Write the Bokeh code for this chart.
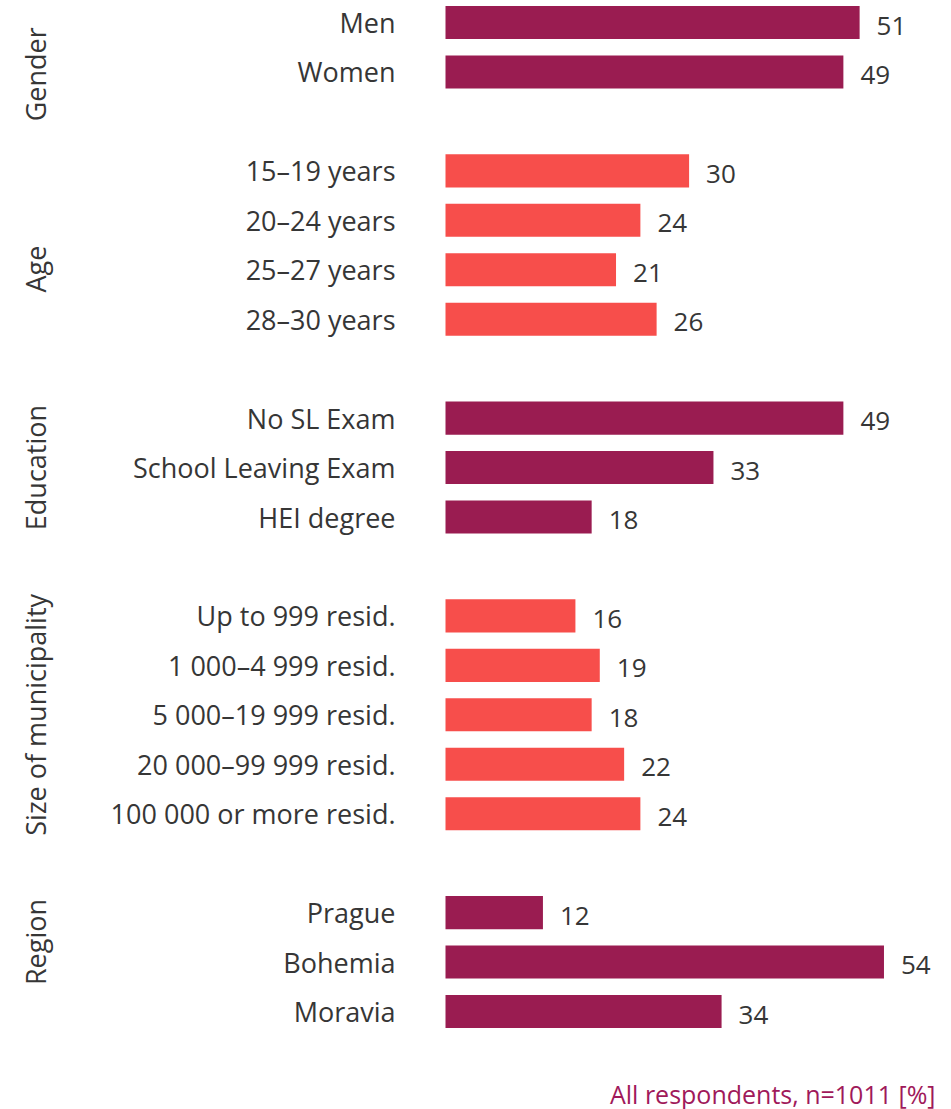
import math
from bokeh.plotting import figure
from bokeh.models import Range1d, ColumnDataSource, Title
from bokeh.core.properties import value
from bokeh.embed import file_html
from bokeh.resources import INLINE

groups = ["Gender", "Age", "Education", "Size of municipality", "Region"]
gender_cats = ["Men", "Women"]
gender_vals = [51, 49]
age_cats = ["15–19 years", "20–24 years", "25–27 years", "28–30 years"]
age_vals = [30, 24, 21, 26]
edu_cats = ["No SL Exam", "School Leaving Exam", "HEI degree"]
edu_vals = [49, 33, 18]
size_cats = ["Up to 999 resid.", "1 000–4 999 resid.", "5 000–19 999 resid.",
             "20 000–99 999 resid.", "100 000 or more resid."]
size_vals = [16, 19, 18, 22, 24]
region_cats = ["Prague", "Bohemia", "Moravia"]
region_vals = [12, 54, 34]
footer = "All respondents, n=1011 [%]"

MAGENTA = "#9A1C51"
CORAL = "#F74E4B"
TEXT = "#363636"
FOOT = "#A0195A"
FONT = "Open Sans"

group_data = [
    (gender_cats, gender_vals, MAGENTA),
    (age_cats, age_vals, CORAL),
    (edu_cats, edu_vals, MAGENTA),
    (size_cats, size_vals, CORAL),
    (region_cats, region_vals, MAGENTA),
]
# per-group pixel nudge for rotated group labels (layout only)
group_label_nudge = [27, 24, 0, 0, -20]

rows, vals, cats, colors = [], [], [], []
g_rows = []
r = 0
for gi, (c, v, col) in enumerate(group_data):
    start = r
    for ci, vi in zip(c, v):
        rows.append(r); vals.append(vi); cats.append(ci); colors.append(col)
        r += 1
    g_rows.append((start + r - 1) / 2)
    r += 1  # blank gap row

PX = 8.12      # pixels per percent
ROW = 49.45    # pixels per row
FW, FH = 935, 1074
x0 = -445 / PX
y_top = -22 / ROW

p = figure(width=FW, frame_width=FW, frame_height=FH, output_backend="svg",
           toolbar_location=None, x_axis_location=None, y_axis_location=None,
           x_range=Range1d(x0, x0 + FW / PX),
           y_range=Range1d(y_top + FH / ROW, y_top),
           min_border=0, min_border_left=0, min_border_right=0,
           min_border_top=0, min_border_bottom=0)
p.outline_line_color = None
p.grid.visible = False

src = ColumnDataSource(dict(y=rows, v=vals, cat=cats, color=colors,
                            lab=[str(x) for x in vals], zero=[0] * len(rows)))

p.hbar(y="y", left=0, right="v", height=0.67, fill_color="color",
       line_color=None, source=src)

p.text(x="v", y="y", text="lab", source=src, x_offset=17, y_offset=3,
       text_baseline="middle", text_align="left", text_color=TEXT,
       text_font=value(FONT), text_font_size="26px")

p.text(x="zero", y="y", text="cat", source=src, x_offset=-50, y_offset=0,
       text_baseline="middle", text_align="right", text_color=TEXT,
       text_font=value(FONT), text_font_size="27px")

gsrc = ColumnDataSource(dict(y=g_rows, g=groups, zero=[0] * len(groups),
                             nudge=group_label_nudge))
p.text(x="zero", y="y", text="g", source=gsrc, x_offset=-410, y_offset="nudge",
       angle=math.pi / 2, text_baseline="middle", text_align="center",
       text_color=TEXT, text_font=value(FONT), text_font_size="27px")

t = Title(text=footer, align="right", text_color=FOOT, text_font=FONT,
          text_font_size="25px", text_font_style="normal", standoff=0)
p.add_layout(t, "below")

open("out.html", "w").write(file_html(p, INLINE))
